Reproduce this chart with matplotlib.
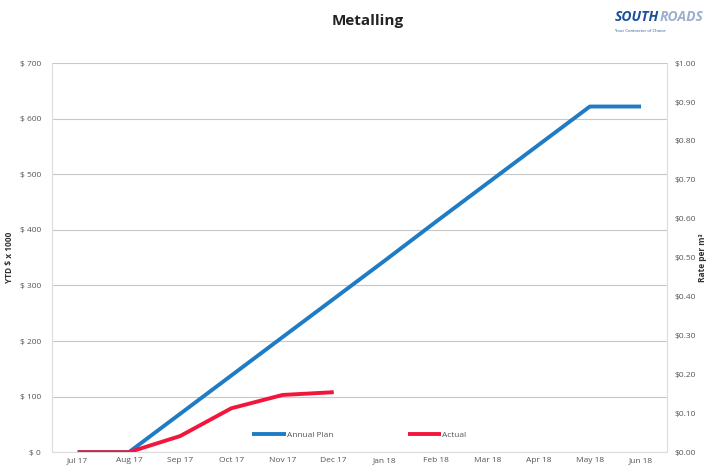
import matplotlib.pyplot as plt
from matplotlib.ticker import FuncFormatter

months = ["Jul 17", "Aug 17", "Sep 17", "Oct 17", "Nov 17", "Dec 17",
          "Jan 18", "Feb 18", "Mar 18", "Apr 18", "May 18", "Jun 18"]
annual_plan = [0, 0, 69, 138, 207, 276, 345, 415, 484, 553, 622, 622]
actual = [0, 0, 29, 79, 103, 108]
left_ticks = [0, 100, 200, 300, 400, 500, 600, 700]
right_ticks = [0.0, 0.1, 0.2, 0.3, 0.4, 0.5, 0.6, 0.7, 0.8, 0.9, 1.0]


def main():
    plt.rcParams["font.family"] = ["Open Sans", "DejaVu Sans"]
    fig = plt.figure(figsize=(7.13, 4.75), dpi=100)
    axe = fig.add_axes([0.073, 0.048, 0.862, 0.819])

    x = list(range(len(months)))
    axe.plot(x, annual_plan, color="#1f7cc4", lw=2.8,
             solid_capstyle="butt", label="Annual Plan", zorder=3)
    axe.plot(x[:len(actual)], actual, color="#f2163c", lw=2.8,
             solid_capstyle="butt", label="Actual", zorder=4)

    axe.set_xlim(-0.5, len(months) - 0.5)
    axe.set_ylim(0, 700)
    axe.set_yticks(left_ticks)
    axe.yaxis.set_major_formatter(FuncFormatter(lambda v, p: "$ %d" % v))
    axe.set_xticks(x)
    axe.set_xticklabels(months)
    axe.tick_params(labelsize=6, colors="#555555", length=0)
    axe.tick_params(axis="y", pad=8)
    axe.grid(axis="y", color="#c8c8c8", lw=0.8)
    axe.set_ylabel("YTD $ x 1000", fontsize=6, fontweight="bold",
                   color="#333333", labelpad=4)

    axe.spines["top"].set_visible(False)
    for side in ["left", "right", "bottom"]:
        axe.spines[side].set_color("#dddddd")

    right = axe.twinx()
    right.set_ylim(0, 1)
    right.set_yticks(right_ticks)
    right.yaxis.set_major_formatter(FuncFormatter(lambda v, p: "$%.2f" % v))
    right.tick_params(labelsize=6, colors="#555555", length=0, pad=6)
    right.set_ylabel("Rate per m³", fontsize=6, fontweight="bold",
                     color="#333333", labelpad=1)
    for side in ["top", "left", "right", "bottom"]:
        right.spines[side].set_visible(False)

    axe.legend(loc="lower center", bbox_to_anchor=(0.5, 0.015), ncol=2,
               frameon=False, fontsize=6, columnspacing=9,
               handlelength=4, handletextpad=0.1, labelcolor="#555555")

    fig.text(0.515, 0.955, "Metalling", ha="center", va="center",
             fontsize=11, fontweight="bold", color="#222222")
    fig.text(0.862, 0.965, "SOUTH", ha="left", va="center", fontsize=10,
             fontweight="bold", style="italic", color="#1a4f9c")
    fig.text(0.925, 0.965, "ROADS", ha="left", va="center", fontsize=10,
             fontweight="bold", style="italic", color="#9bb0cf")
    fig.text(0.862, 0.935, "Your Contractor of Choice", ha="left",
             va="center", fontsize=3, color="#1a4f9c")

    fig.savefig("out.png", dpi=100)


if __name__ == "__main__":
    main()
